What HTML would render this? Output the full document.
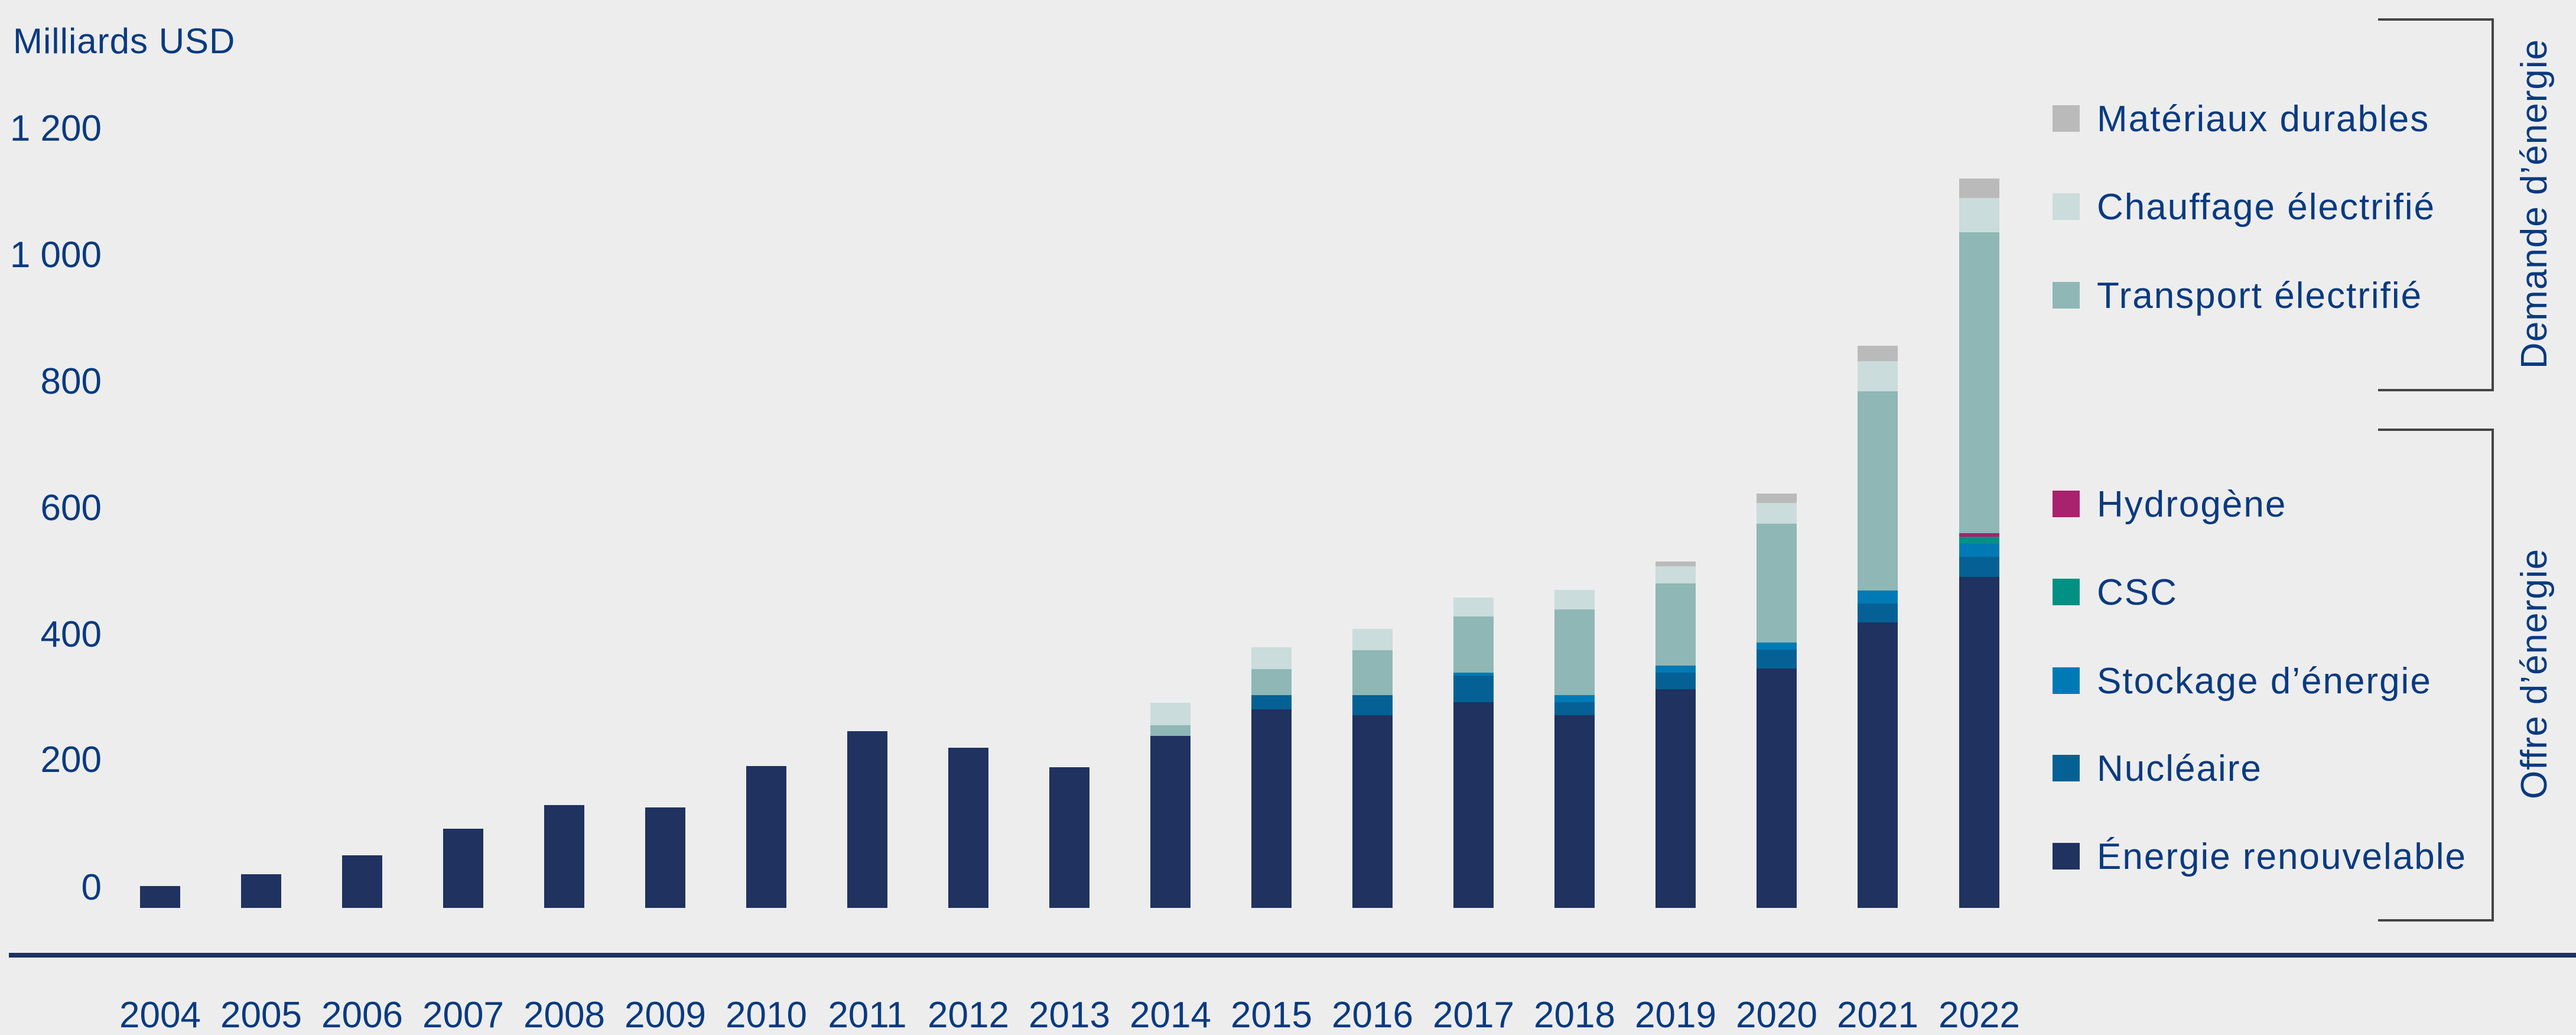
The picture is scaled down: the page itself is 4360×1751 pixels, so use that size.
<!DOCTYPE html>
<html><head><meta charset="utf-8"><style>
html,body{margin:0;padding:0;background:#ededed;}
svg{display:block;}
text{font-family:"Liberation Sans",sans-serif;fill:#0a3a80;}
</style></head><body>
<svg width="4360" height="1751" viewBox="0 0 4360 1751" xmlns="http://www.w3.org/2000/svg">
<rect width="4360" height="1751" fill="#ededed"/>
<text x="22" y="90" font-size="60" letter-spacing="1">Milliards USD</text>
<g font-size="62" text-anchor="end">
<text x="172" y="238">1 200</text>
<text x="172" y="452">1 000</text>
<text x="172" y="666">800</text>
<text x="172" y="880">600</text>
<text x="172" y="1094">400</text>
<text x="172" y="1306">200</text>
<text x="172" y="1522">0</text>
</g>
<rect x="15" y="1612" width="4345" height="8" fill="#1f3260"/>
<g fill="#1f3260">
<rect x="237" y="1499" width="68" height="37"/>
<rect x="408" y="1479" width="68" height="57"/>
<rect x="579" y="1447" width="68" height="89"/>
<rect x="750" y="1402" width="68" height="134"/>
<rect x="921" y="1362" width="68" height="174"/>
<rect x="1092" y="1366" width="68" height="170"/>
<rect x="1263" y="1296" width="68" height="240"/>
<rect x="1434" y="1237" width="68" height="299"/>
<rect x="1605" y="1265" width="68" height="271"/>
<rect x="1776" y="1298" width="68" height="238"/>
</g>
<g transform="translate(1947,0)">
<rect y="1189" width="68" height="38" fill="#cadcdb"/>
<rect y="1227" width="68" height="18" fill="#8fb7b5"/>
<rect y="1245" width="68" height="291" fill="#1f3260"/>
</g>
<g transform="translate(2118,0)">
<rect y="1095" width="68" height="37" fill="#cadcdb"/>
<rect y="1132" width="68" height="44" fill="#8fb7b5"/>
<rect y="1176" width="68" height="24" fill="#056195"/>
<rect y="1200" width="68" height="336" fill="#1f3260"/>
</g>
<g transform="translate(2289,0)">
<rect y="1064" width="68" height="36" fill="#cadcdb"/>
<rect y="1100" width="68" height="76" fill="#8fb7b5"/>
<rect y="1176" width="68" height="34" fill="#056195"/>
<rect y="1210" width="68" height="326" fill="#1f3260"/>
</g>
<g transform="translate(2460,0)">
<rect y="1011" width="68" height="32" fill="#cadcdb"/>
<rect y="1043" width="68" height="95" fill="#8fb7b5"/>
<rect y="1138" width="68" height="5" fill="#007ab5"/>
<rect y="1143" width="68" height="45" fill="#056195"/>
<rect y="1188" width="68" height="348" fill="#1f3260"/>
</g>
<g transform="translate(2631,0)">
<rect y="998" width="68" height="33" fill="#cadcdb"/>
<rect y="1031" width="68" height="145" fill="#8fb7b5"/>
<rect y="1176" width="68" height="12" fill="#007ab5"/>
<rect y="1188" width="68" height="22" fill="#056195"/>
<rect y="1210" width="68" height="326" fill="#1f3260"/>
</g>
<g transform="translate(2802,0)">
<rect y="950" width="68" height="8" fill="#bababa"/>
<rect y="958" width="68" height="29" fill="#cadcdb"/>
<rect y="987" width="68" height="139" fill="#8fb7b5"/>
<rect y="1126" width="68" height="12" fill="#007ab5"/>
<rect y="1138" width="68" height="28" fill="#056195"/>
<rect y="1166" width="68" height="370" fill="#1f3260"/>
</g>
<g transform="translate(2973,0)">
<rect y="835" width="68" height="16" fill="#bababa"/>
<rect y="851" width="68" height="35" fill="#cadcdb"/>
<rect y="886" width="68" height="201" fill="#8fb7b5"/>
<rect y="1087" width="68" height="12" fill="#007ab5"/>
<rect y="1099" width="68" height="32" fill="#056195"/>
<rect y="1131" width="68" height="405" fill="#1f3260"/>
</g>
<g transform="translate(3144,0)">
<rect y="585" width="68" height="26" fill="#bababa"/>
<rect y="611" width="68" height="51" fill="#cadcdb"/>
<rect y="662" width="68" height="337" fill="#8fb7b5"/>
<rect y="999" width="68" height="22" fill="#007ab5"/>
<rect y="1021" width="68" height="32" fill="#056195"/>
<rect y="1053" width="68" height="483" fill="#1f3260"/>
</g>
<g transform="translate(3316,0)">
<rect y="302" width="68" height="33" fill="#bababa"/>
<rect y="335" width="68" height="58" fill="#cadcdb"/>
<rect y="393" width="68" height="509" fill="#8fb7b5"/>
<rect y="902" width="68" height="6" fill="#a8226e"/>
<rect y="908" width="68" height="12" fill="#009184"/>
<rect y="920" width="68" height="22" fill="#007ab5"/>
<rect y="942" width="68" height="34" fill="#056195"/>
<rect y="976" width="68" height="560" fill="#1f3260"/>
</g>
<g font-size="62" text-anchor="middle">
<text x="271" y="1738">2004</text><text x="442" y="1738">2005</text><text x="613" y="1738">2006</text>
<text x="784" y="1738">2007</text><text x="955" y="1738">2008</text><text x="1126" y="1738">2009</text>
<text x="1297" y="1738">2010</text><text x="1468" y="1738">2011</text><text x="1639" y="1738">2012</text>
<text x="1810" y="1738">2013</text><text x="1981" y="1738">2014</text><text x="2152" y="1738">2015</text>
<text x="2323" y="1738">2016</text><text x="2494" y="1738">2017</text><text x="2665" y="1738">2018</text>
<text x="2836" y="1738">2019</text><text x="3007" y="1738">2020</text><text x="3178" y="1738">2021</text>
<text x="3350" y="1738">2022</text>
</g>
<g font-size="62" letter-spacing="2">
<rect x="3474" y="178" width="46" height="45" fill="#bababa"/><text x="3549" y="222">Matériaux durables</text>
<rect x="3474" y="327" width="46" height="45" fill="#cadcdb"/><text x="3549" y="371">Chauffage électrifié</text>
<rect x="3474" y="477" width="46" height="45" fill="#8fb7b5"/><text x="3549" y="521">Transport électrifié</text>
<rect x="3474" y="830" width="46" height="45" fill="#a8226e"/><text x="3549" y="874">Hydrogène</text>
<rect x="3474" y="979" width="46" height="45" fill="#009184"/><text x="3549" y="1023">CSC</text>
<rect x="3474" y="1129" width="46" height="45" fill="#007ab5"/><text x="3549" y="1173">Stockage d’énergie</text>
<rect x="3474" y="1277" width="46" height="45" fill="#056195"/><text x="3549" y="1321">Nucléaire</text>
<rect x="3474" y="1426" width="46" height="45" fill="#1f3260"/><text x="3549" y="1470">Énergie renouvelable</text>
</g>
<g stroke="#444" stroke-width="4" fill="none">
<polyline points="4025,33 4219,33 4219,660 4025,660"/>
<polyline points="4025,727 4219,727 4219,1557 4025,1557"/>
</g>
<g font-size="62" text-anchor="middle" letter-spacing="1">
<text transform="translate(4310,345) rotate(-90)">Demande d’énergie</text>
<text transform="translate(4310,1140) rotate(-90)">Offre d’énergie</text>
</g>
</svg>
</body></html>
